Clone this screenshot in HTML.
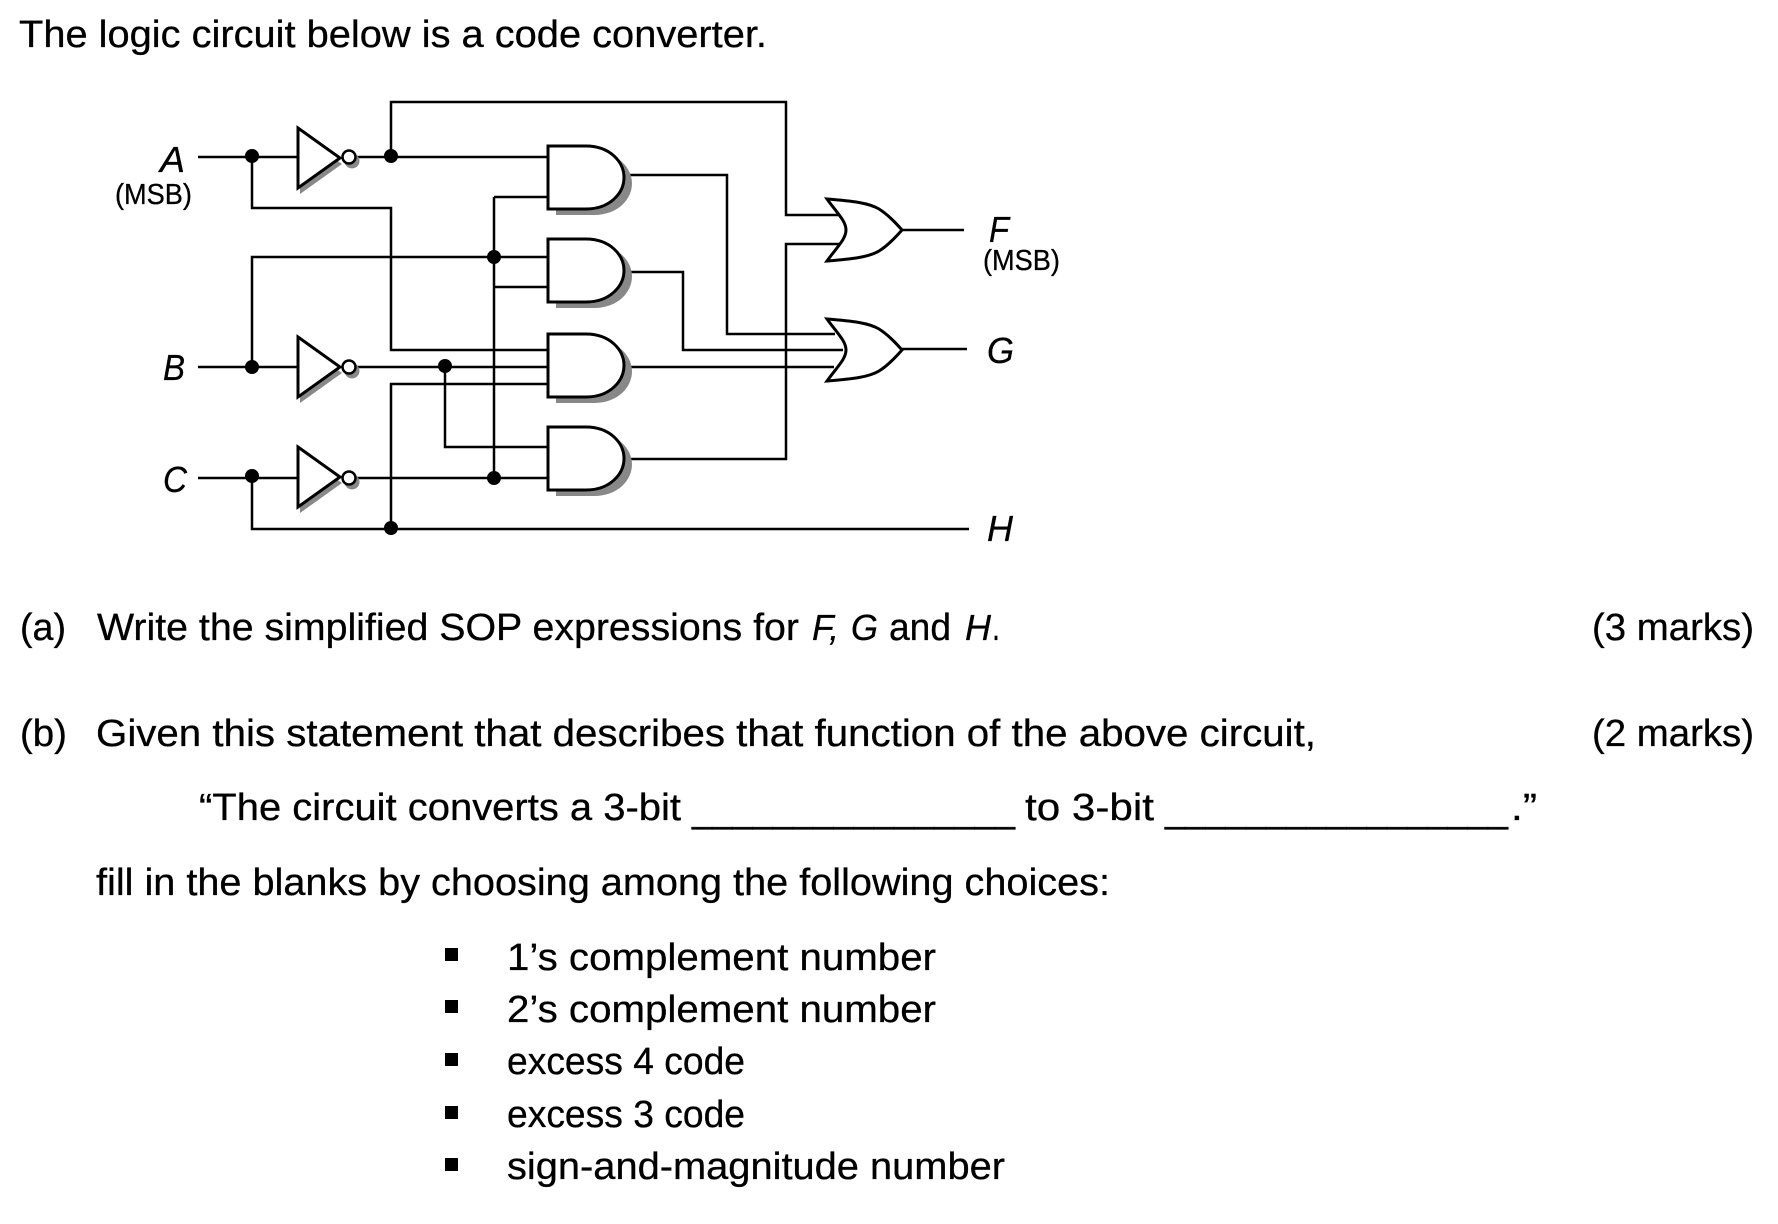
<!DOCTYPE html>
<html><head><meta charset="utf-8"><style>
html,body{margin:0;padding:0;background:#fff}
svg{display:block}
text{font-family:"Liberation Sans",sans-serif;font-size:38px;fill:#000;stroke:#000;stroke-width:.3px}
.i{font-style:italic;font-size:36px}
.m{font-size:29px}
.w{fill:none;stroke:#000;stroke-width:2.5;stroke-linejoin:miter}
.g{fill:#fff;stroke:#000;stroke-width:3}
.s{fill:#888;stroke:none}
</style></head><body>
<svg width="1778" height="1224" viewBox="0 0 1778 1224" xmlns="http://www.w3.org/2000/svg">
<defs>
<path id="and" d="M0 0H38C62 0 76 16 76 31.5C76 47 62 63 38 63H0Z"/>
<path id="inv" d="M0 0L42 30L0 60Z"/>
<path id="or" d="M0 0C26 2 42 4 52 10C60 15 68 23 75 31C68 39 60 47 52 52C42 58 26 60 0 62C10 48 19 40 19 31C19 22 10 14 0 0Z"/>
</defs>

<!-- wires -->
<g class="w">
<path d="M198 157H297M355 157H547"/>
<path d="M391 157V102H786V215H839"/>
<path d="M252 157V208H391V350H547"/>
<path d="M252 367V257H547"/>
<path d="M494 197H547M494 197V478"/>
<path d="M494 287H547"/>
<path d="M198 367H297M355 367H547"/>
<path d="M445 367V447H547"/>
<path d="M198 478H297M355 478H547"/>
<path d="M252 478V529H969"/>
<path d="M391 529V384H547"/>
<path d="M628 175H727V334H835"/>
<path d="M628 272H683V350H843"/>
<path d="M628 367H834"/>
<path d="M628 459H786V244H839"/>
<path d="M901 230H964M901 349H967"/>
</g>

<!-- AND gates: shadow then body -->
<g>
<use href="#and" x="556" y="152" class="s"/><use href="#and" x="548" y="146" class="g"/>
<use href="#and" x="556" y="245" class="s"/><use href="#and" x="548" y="239" class="g"/>
<use href="#and" x="556" y="340" class="s"/><use href="#and" x="548" y="334" class="g"/>
<use href="#and" x="556" y="433" class="s"/><use href="#and" x="548" y="427" class="g"/>
</g>

<!-- inverters -->
<g>
<use href="#inv" x="300" y="134" class="s"/><use href="#inv" x="298" y="128" class="g"/>
<circle cx="352" cy="161" r="7.5" class="s"/><circle cx="349" cy="157" r="6.5" fill="#fff" stroke="#000" stroke-width="2.5"/>
<use href="#inv" x="300" y="343" class="s"/><use href="#inv" x="298" y="337" class="g"/>
<circle cx="352" cy="371" r="7.5" class="s"/><circle cx="349" cy="367" r="6.5" fill="#fff" stroke="#000" stroke-width="2.5"/>
<use href="#inv" x="300" y="453" class="s"/><use href="#inv" x="298" y="447" class="g"/>
<circle cx="352" cy="482" r="7.5" class="s"/><circle cx="349" cy="478" r="6.5" fill="#fff" stroke="#000" stroke-width="2.5"/>
</g>

<!-- OR gates -->
<use href="#or" x="827" y="199" class="g"/>
<use href="#or" x="827" y="319" class="g"/>

<!-- junctions -->
<g fill="#000">
<ellipse cx="252" cy="156" rx="7" ry="7"/>
<ellipse cx="391" cy="156" rx="7" ry="7"/>
<ellipse cx="494" cy="257" rx="7" ry="7"/>
<ellipse cx="252" cy="367" rx="7" ry="7"/>
<ellipse cx="445" cy="366" rx="7" ry="7"/>
<ellipse cx="252" cy="476" rx="7" ry="7"/>
<ellipse cx="494" cy="478" rx="7" ry="7"/>
<ellipse cx="391" cy="528" rx="7" ry="7"/>
</g>

<!-- circuit labels -->
<text class="i" x="160" y="172" textLength="25" lengthAdjust="spacingAndGlyphs">A</text>
<text class="m" x="115" y="204" textLength="77" lengthAdjust="spacingAndGlyphs">(MSB)</text>
<text class="i" x="163" y="380" textLength="22" lengthAdjust="spacingAndGlyphs">B</text>
<text class="i" x="163" y="492" textLength="24" lengthAdjust="spacingAndGlyphs">C</text>
<text class="i" x="989" y="242" textLength="20" lengthAdjust="spacingAndGlyphs">F</text>
<text class="m" x="983" y="270" textLength="77" lengthAdjust="spacingAndGlyphs">(MSB)</text>
<text class="i" x="987" y="363" textLength="27" lengthAdjust="spacingAndGlyphs">G</text>
<text class="i" x="987" y="541" textLength="26" lengthAdjust="spacingAndGlyphs">H</text>

<!-- text -->
<text x="19" y="47" textLength="748" lengthAdjust="spacingAndGlyphs">The logic circuit below is a code converter.</text>

<text x="20" y="640" textLength="46" lengthAdjust="spacingAndGlyphs">(a)</text>
<text x="97" y="640" textLength="702" lengthAdjust="spacingAndGlyphs">Write the simplified SOP expressions for</text>
<text class="i" x="812" y="640" textLength="27" lengthAdjust="spacingAndGlyphs">F,</text>
<text class="i" x="851" y="640" textLength="27" lengthAdjust="spacingAndGlyphs">G</text>
<text x="889" y="640" textLength="62" lengthAdjust="spacingAndGlyphs">and</text>
<text class="i" x="965" y="640" textLength="26" lengthAdjust="spacingAndGlyphs">H</text>
<text x="992" y="640" textLength="8" lengthAdjust="spacingAndGlyphs">.</text>
<text x="1592" y="640" textLength="162" lengthAdjust="spacingAndGlyphs">(3 marks)</text>

<text x="20" y="746" textLength="47" lengthAdjust="spacingAndGlyphs">(b)</text>
<text x="96" y="746" textLength="1220" lengthAdjust="spacingAndGlyphs">Given this statement that describes that function of the above circuit,</text>
<text x="1592" y="746" textLength="162" lengthAdjust="spacingAndGlyphs">(2 marks)</text>

<text x="199" y="820" textLength="482" lengthAdjust="spacingAndGlyphs">“The circuit converts a 3-bit</text>
<text x="692" y="822" textLength="323" lengthAdjust="spacingAndGlyphs">________________</text>
<text x="1025" y="820" textLength="129" lengthAdjust="spacingAndGlyphs">to 3-bit</text>
<text x="1165" y="822" textLength="343" lengthAdjust="spacingAndGlyphs">_________________</text>
<text x="1511" y="820" textLength="26" lengthAdjust="spacingAndGlyphs">.”</text>

<text x="96" y="895" textLength="1014" lengthAdjust="spacingAndGlyphs">fill in the blanks by choosing among the following choices:</text>

<g fill="#000">
<rect x="445" y="948" width="13" height="13"/>
<rect x="445" y="1000" width="13" height="13"/>
<rect x="445" y="1053" width="13" height="13"/>
<rect x="445" y="1106" width="13" height="13"/>
<rect x="445" y="1158" width="13" height="13"/>
</g>
<text x="507" y="970" textLength="429" lengthAdjust="spacingAndGlyphs">1’s complement number</text>
<text x="507" y="1022" textLength="429" lengthAdjust="spacingAndGlyphs">2’s complement number</text>
<text x="507" y="1074" textLength="238" lengthAdjust="spacingAndGlyphs">excess 4 code</text>
<text x="507" y="1127" textLength="238" lengthAdjust="spacingAndGlyphs">excess 3 code</text>
<text x="507" y="1179" textLength="498" lengthAdjust="spacingAndGlyphs">sign-and-magnitude number</text>
</svg>
</body></html>
